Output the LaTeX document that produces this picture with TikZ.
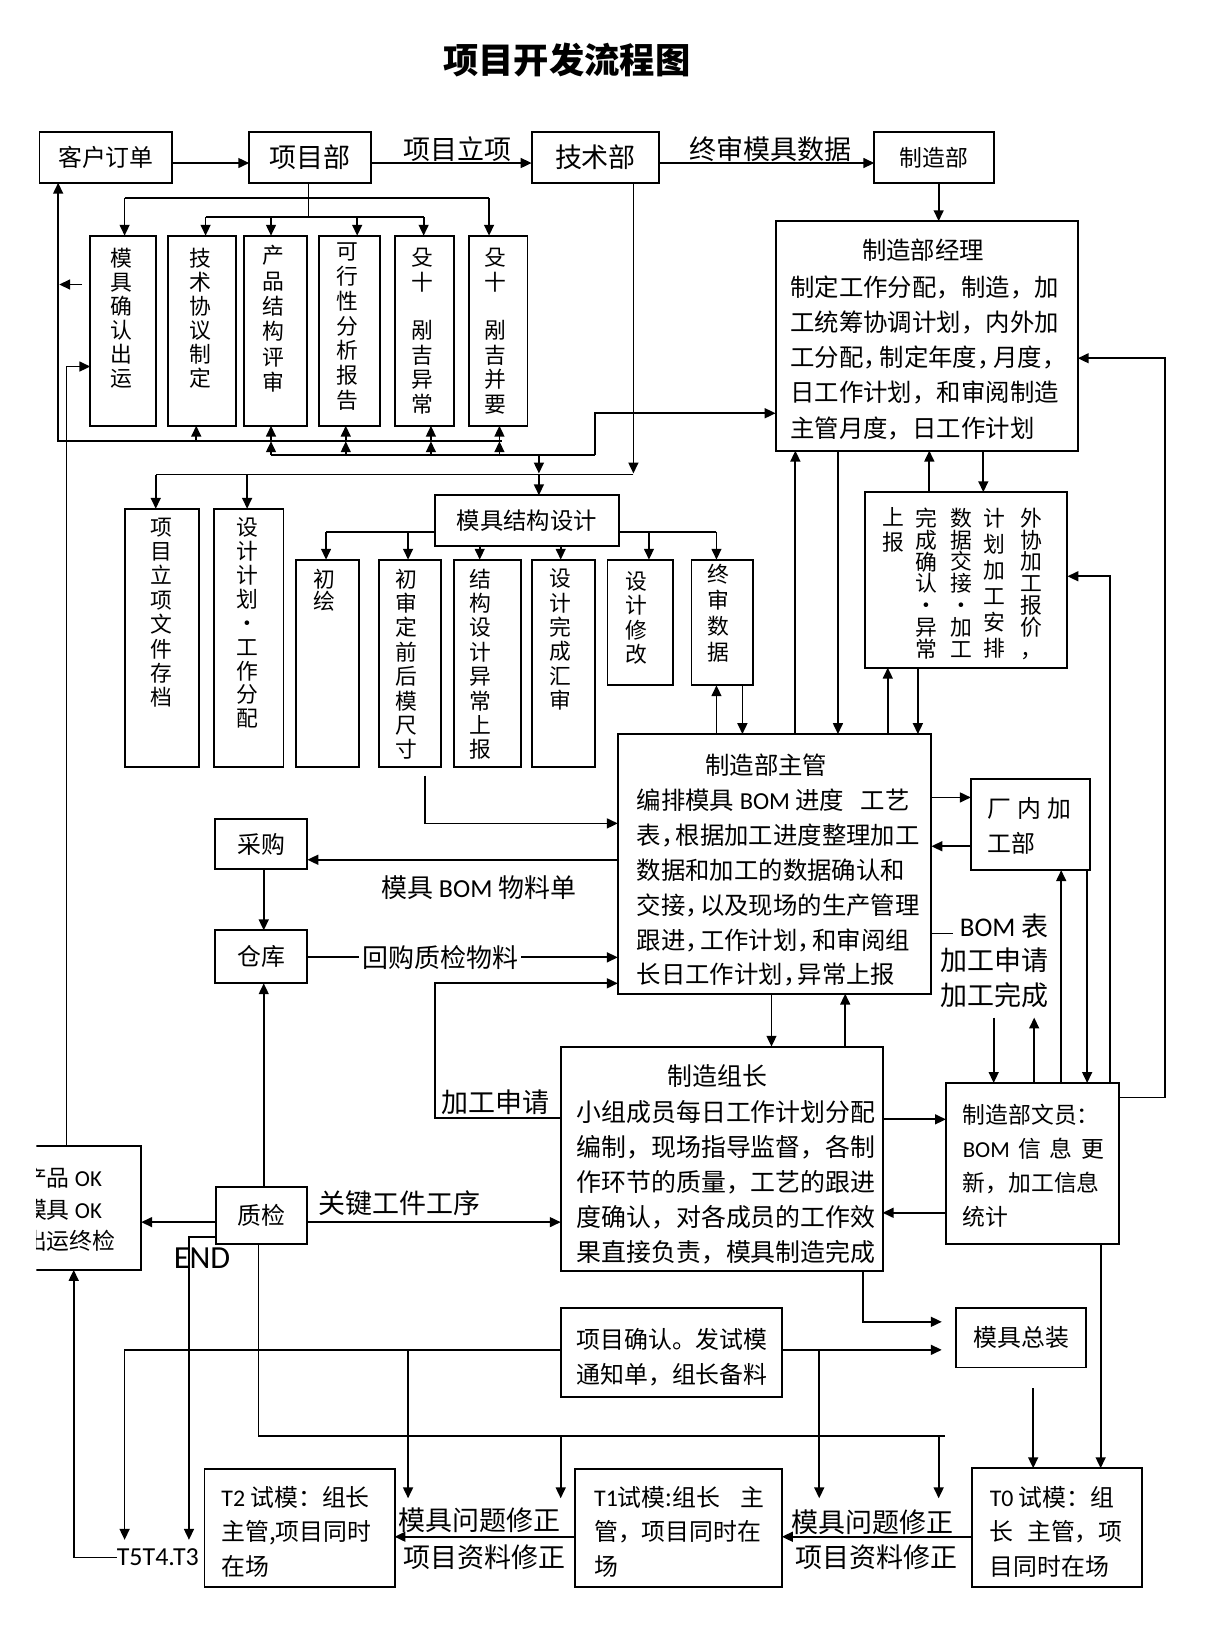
\documentclass[tikz,border=0pt]{standalone}
\usepackage{fontspec}
\setmainfont{Noto Sans CJK SC}
\newfontfamily\lat{Carlito}
\usetikzlibrary{arrows.meta}
\newcommand\mybox[6]{\node[box,anchor=north west,minimum width={#4-#2},minimum height={#5-#3}] (#1) at (#2,#3) {#6};}
\newcommand\sdou[1][0.6em]{\makebox[#1][l]{，}}
\begin{document}
\begin{tikzpicture}[x=1pt,y=-1pt,
  box/.style={draw,line width=1.8pt,inner sep=0pt,outer sep=0pt,font=\fontsize{23}{28}\selectfont},
  ln/.style={line width=1.7pt},
  arr/.style={line width=1.7pt,-{Triangle[length=10.5pt,width=9.5pt]}},
  tx/.style={inner sep=0pt,align=left,anchor=north west},
  lb/.style={inner sep=0pt,font=\fontsize{26}{30}\selectfont},
  vt/.style={inner sep=0pt,align=center,anchor=north},
]
\fill[white] (0,0) rectangle (1170,1565);
\useasboundingbox (0,0) rectangle (1170,1565);

\node[inner sep=0pt,font=\fontsize{34}{40}\selectfont\bfseries] (title) at (546,58) {项目开发流程图};

% ---------- nodes ----------
\mybox{A}{38}{127}{166}{176}{客户订单}
\mybox{B}{240}{127}{357}{176}{\fontsize{26}{30}\selectfont 项目部}
\mybox{C}{512}{127}{635}{176}{\fontsize{26}{30}\selectfont 技术部}
\mybox{D}{842}{127}{957}{176}{\fontsize{22}{26}\selectfont 制造部}

\mybox{E}{747}{213}{1038}{434}{}
\node[anchor=base,inner sep=0pt,font=\fontsize{23.5}{34}\selectfont] (Et) at (889,250) {制造部经理};
\node[tx,font=\fontsize{23.5}{34}\selectfont] (Eb) at (761,265) {制定工作分配，制造，加\\工统筹协调计划，内外加\\工分配\sdou[0.66em]制定年度\sdou[0.66em]月度\sdou[0.66em]\\日工作计划，和审阅制造\\主管月度，日工作计划};

\mybox{V1}{87}{227}{150}{410}{}
\mybox{V2}{162}{227}{227}{410}{}
\mybox{V3}{235}{227}{296}{410}{}
\mybox{V4}{307}{227}{366}{410}{}
\mybox{V5}{380}{227}{437}{410}{}
\mybox{V6}{452}{227}{508}{410}{}
\node[vt,font=\fontsize{21}{23}\selectfont] (v1t) at (117,239) {模\\具\\确\\认\\出\\运};
\node[vt,font=\fontsize{21}{23}\selectfont] (v2t) at (193,239) {技\\术\\协\\议\\制\\定};
\node[vt,font=\fontsize{21}{24.5}\selectfont] (v3t) at (263,236) {产\\品\\结\\构\\评\\审};
\node[vt,font=\fontsize{21}{23.8}\selectfont] (v4t) at (335,234) {可\\行\\性\\分\\析\\报\\告};
\node[vt,font=\fontsize{21}{23.5}\selectfont] (v5t) at (407,239) {殳\\十\\\phantom{十}\\剐\\吉\\异\\常};
\node[vt,font=\fontsize{21}{23.5}\selectfont] (v6t) at (477,239) {殳\\十\\\phantom{十}\\剐\\吉\\并\\要};

\mybox{W1}{120}{490}{192}{739}{}
\mybox{W2}{206}{490}{273}{739}{}
\node[vt,font=\fontsize{21}{23.5}\selectfont] (w1t) at (155,498.5) {项\\目\\立\\项\\文\\件\\存\\档};
\node[vt,font=\fontsize{21}{23}\selectfont] (w2t) at (238,498.5) {设\\计\\计\\划\\·\\工\\作\\分\\配};

\mybox{T}{419}{477}{596}{526}{\fontsize{22.5}{26}\selectfont 模具结构设计}
\mybox{X1}{285}{539}{346}{739}{}
\mybox{X2}{365}{539}{425}{739}{}
\mybox{X3}{437}{539}{502}{739}{}
\mybox{X4}{512}{539}{573}{739}{}
\mybox{X5}{585}{539}{648}{660}{}
\mybox{X6}{666}{539}{725}{660}{}
\node[vt,font=\fontsize{21}{22}\selectfont] (x1t) at (312,547.5) {初\\绘};
\node[vt,font=\fontsize{21}{23.5}\selectfont] (x2t) at (391,547.5) {初\\审\\定\\前\\后\\模\\尺\\寸};
\node[vt,font=\fontsize{21}{23.5}\selectfont] (x3t) at (463,547.5) {结\\构\\设\\计\\异\\常\\上\\报};
\node[vt,font=\fontsize{21}{23.5}\selectfont] (x4t) at (540,547.5) {设\\计\\完\\成\\汇\\审};
\node[vt,font=\fontsize{21}{23.5}\selectfont] (x5t) at (613,550) {设\\计\\修\\改};
\node[vt,font=\fontsize{21}{25}\selectfont] (x6t) at (692,543) {终\\审\\数\\据};

\mybox{G}{833}{474}{1028}{643}{}
\node[vt,font=\fontsize{21}{21}\selectfont] (g1) at (993,489) {外\\协\\加\\工\\报\\价\\，};
\node[vt,font=\fontsize{21}{25}\selectfont] (g2) at (958,489) {计\\划\\加\\工\\安\\排};
\node[vt,font=\fontsize{21}{21}\selectfont] (g3) at (926,489) {数\\据\\交\\接\\·\\加\\工};
\node[vt,font=\fontsize{21}{21}\selectfont] (g4) at (892,489) {完\\成\\确\\认\\·\\异\\常};
\node[vt,font=\fontsize{21}{24}\selectfont] (g5) at (860,489) {上\\报};

\mybox{F}{595}{707}{897}{957}{}
\node[anchor=base,inner sep=0pt,font=\fontsize{23.5}{34}\selectfont] (Ft) at (738,746) {制造部主管};
\node[tx,font=\fontsize{23.5}{33.6}\selectfont] (Fb) at (613,759.5) {\hbox to 263pt{编排模具 {\lat BOM} 进度\hfil 工艺}\\表\sdou 根据加工进度整理加工\\数据和加工的数据确认和\\交接\sdou 以及现场的生产管理\\跟进\sdou 工作计划\sdou 和审阅组\\长日工作计划\sdou 异常上报};

\mybox{H}{935}{750}{1050}{838}{}
\node[tx,font=\fontsize{23}{34}\selectfont] (Hb) at (951,767.5) {\hbox to 81pt{厂\hfil 内\hfil 加}\\工部};

\node[inner sep=0pt,align=right,anchor=north east,font=\fontsize{26}{33}\selectfont] (bl) at (1010,880) {{\lat BOM} 表\\加工申请\\加工完成};

\mybox{L}{911}{1043}{1078}{1198}{}
\node[tx,font=\fontsize{22}{32.7}\selectfont] (Lb) at (927,1063) {制造部文员：\\\hbox to 136pt{{\lat BOM}\hfil 信\hfil 息\hfil 更}\\新，加工信息\\统计};

\mybox{I}{207}{789}{296}{837}{采购}
\mybox{J}{207}{896}{296}{947}{仓库}

\mybox{K}{540}{1008}{850}{1224}{}
\node[anchor=base,inner sep=0pt,font=\fontsize{24}{33.5}\selectfont] (Kt) at (691,1045) {制造组长};
\node[tx,font=\fontsize{24}{33.5}\selectfont] (Kb) at (555,1060) {小组成员每日工作计划分配\\编制，现场指导监督，各制\\作环节的质量，工艺的跟进\\度确认，对各成员的工作效\\果直接负责，模具制造完成};

\mybox{O}{208}{1143}{296}{1198}{质检}
\begin{scope}
\clip (35,0) rectangle (1170,1565);
\mybox{P}{10}{1104}{136}{1223}{}
\node[tx,font=\fontsize{22}{30.5}\selectfont] (Pb) at (23,1124) {产品 {\lat OK}\\模具 {\lat OK}\\出运终检};
\end{scope}

\mybox{M}{921}{1260}{1046}{1317}{模具总装}
\mybox{N}{540}{1260}{753}{1345}{}
\node[tx,font=\fontsize{23}{33}\selectfont] (Nb) at (555,1279.5) {项目确认。发试模\\通知单，组长备料};

\mybox{Q}{197}{1415}{380}{1528}{}
\mybox{R}{554}{1415}{753}{1528}{}
\mybox{S}{936}{1414}{1100}{1528}{}
\node[tx,font=\fontsize{23}{33}\selectfont] (Qb) at (213,1431.5) {{\lat T2} 试模：组长\\主管,项目同时\\在场};
\node[tx,font=\fontsize{23}{33}\selectfont] (Rb) at (572,1431.5) {\hbox to 164pt{{\lat T1}试模:组长\hfil 主}\\管，项目同时在\\场};
\node[tx,font=\fontsize{23}{33}\selectfont] (Sb) at (953,1431.5) {{\lat T0} 试模：组\\\hbox to 128pt{长\hfil 主管，项}\\目同时在场};
\node[inner sep=0pt,font=\lat\fontsize{25}{30}\selectfont] (tt) at (152,1500) {T5T4.T3};

% ---------- connectors ----------
\draw[arr] (A.east |- 0,157) -- (B.west |- 0,157);
\draw[arr] (B.east |- 0,157) -- (C.west |- 0,157);
\draw[arr] (C.east |- 0,157) -- (D.west |- 0,157);
\node[lb] (l1) at (441,144) {项目立项};
\node[lb] (l2) at (742,144) {终审模具数据};
\draw[arr] (D.south -| 904,0) -- (E.north -| 904,0);

\draw[ln] (B.south -| 297,0) -- (297,209);
\draw[ln] (120,191) -- (471,191);
\draw[ln] (198,209) -- (408,209);
\draw[arr] (120,191) -- (V1.north -| 120,0);
\draw[arr] (471,191) -- (V6.north -| 471,0);
\draw[arr] (198,209) -- (V2.north -| 198,0);
\draw[arr] (261,209) -- (V3.north -| 261,0);
\draw[arr] (344,209) -- (V4.north -| 344,0);
\draw[arr] (408,209) -- (V5.north -| 408,0);

\draw[arr] (483,425) -- (56,425) -- (A.south -| 56,0);
\foreach \x/\n in {189/V2,261/V3,333/V4,415/V5,481/V6} \draw[arr] (\x,425) -- (\n.south -| \x,0);
\draw[ln] (261,438) -- (573,438);
\foreach \x in {261,333,415,481} \draw[arr] (\x,438) -- (\x,425);
\draw[arr] (573,438) -- (573,398) -- (E.west |- 0,398);
\draw[arr,shorten <=8pt] (V1.west |- 0,274) -- (57,274);
\draw[arr] (P.north -| 64,0) -- (64,353) -- (V1.west |- 0,353);

\draw[arr] (C.south -| 610,0) -- (610,456);
\draw[ln] (610,457) -- (150,457);
\draw[arr] (150,457) -- (W1.north -| 150,0);
\draw[arr] (238,457) -- (W2.north -| 238,0);
\draw[arr] (519,438) -- (519,456);
\draw[arr] (519,457) -- (T.north -| 519,0);

\draw[ln] (T.west |- 0,512) -- (314,512);
\draw[arr] (314,512) -- (X1.north -| 314,0);
\draw[arr] (393,512) -- (X2.north -| 393,0);
\draw[ln] (T.east |- 0,512) -- (690,512);
\draw[arr] (625,512) -- (X5.north -| 625,0);
\draw[arr] (690,512) -- (X6.north -| 690,0);
\draw[arr] (T.south -| 462,0) -- (X3.north -| 462,0);
\draw[arr] (T.south -| 540,0) -- (X4.north -| 540,0);

\draw[arr] (F.north -| 766,0) -- (E.south -| 766,0);
\draw[arr] (E.south -| 807,0) -- (F.north -| 807,0);
\draw[arr] (G.north -| 895,0) -- (E.south -| 895,0);
\draw[arr] (E.south -| 947,0) -- (G.north -| 947,0);
\draw[arr] (F.north -| 855,0) -- (G.south -| 855,0);
\draw[arr] (G.south -| 884,0) -- (F.north -| 884,0);
\draw[arr] (F.north -| 690,0) -- (X6.south -| 690,0);
\draw[arr] (X6.south -| 715,0) -- (F.north -| 715,0);
\draw[arr,shorten <=8pt] (X2.south -| 409,0) -- (409,793) -- (F.west |- 0,793);

\draw[arr] (F.east |- 0,768) -- (H.west |- 0,768);
\draw[arr] (H.west |- 0,815) -- (F.east |- 0,815);
\draw[arr] (L.north -| 1022,0) -- (H.south -| 1022,0);
\draw[arr] (H.south -| 1047,0) -- (L.north -| 1047,0);
\draw[arr] (L.north -| 1069,0) -- (1069,555) -- (G.east |- 0,555);
\draw[arr] (L.east |- 0,1057) -- (1122,1057) -- (1122,345) -- (E.east |- 0,345);
\draw[ln] (F.east |- 0,899) -- (918,899);
\draw[arr] (957,980) -- (L.north -| 957,0);
\draw[arr] (L.north -| 996,0) -- (996,980);

\draw[arr] (F.west |- 0,828) -- (I.east |- 0,828);
\node[lb,font=\fontsize{25}{30}\selectfont] (l3) at (461,855) {模具 {\lat BOM} 物料单};
\draw[arr] (I.south -| 254,0) -- (J.north -| 254,0);
\draw[arr] (J.east |- 0,922) -- (F.west |- 0,922);
\node[lb,fill=white,inner xsep=3pt,font=\fontsize{25}{30}\selectfont] (l4) at (424,922) {回购质检物料};

\draw[arr] (K.west |- 0,1077) -- (419,1077) -- (419,947) -- (F.west |- 0,947);
\node[lb] (l5) at (477,1062) {加工申请};
\draw[arr] (F.south -| 743,0) -- (K.north -| 743,0);
\draw[arr] (K.north -| 814,0) -- (F.south -| 814,0);
\draw[arr] (K.east |- 0,1078) -- (L.west |- 0,1078);
\draw[arr] (L.west |- 0,1168) -- (K.east |- 0,1168);

\draw[arr] (O.north -| 254,0) -- (J.south -| 254,0);
\draw[arr] (O.west |- 0,1177) -- (P.east |- 0,1177);
\draw[arr] (O.east |- 0,1177) -- (K.west |- 0,1177);
\node[lb] (l6) at (385,1159) {关键工件工序};
\draw[arr] (O.west |- 0,1191) -- (182,1191) -- (182,1483);
\node[inner sep=0pt,font=\lat\fontsize{31}{36}\selectfont] (end) at (194.5,1212) {END};

\draw[ln] (O.south -| 249,0) -- (249,1383) -- (910,1383);
\draw[arr] (540,1383) -- (540,1443);
\draw[arr] (904,1383) -- (904,1443);

\draw[arr,shorten >=14pt] (N.east |- 0,1300) -- (M.west |- 0,1300);
\draw[arr,shorten >=14pt] (K.south -| 831,0) |- (M.west |- 0,1273);
\draw[arr] (N.west |- 0,1300) -- (120,1300) -- (120,1483);
\draw[arr] (393,1300) -- (393,1443);
\draw[arr] (789,1300) -- (789,1443);
\draw[arr,shorten <=20pt] (M.south -| 995,0) -- (S.north -| 995,0);
\draw[arr] (L.south -| 1060,0) -- (S.north -| 1060,0);

\draw[arr] (S.west |- 0,1480) -- (R.east |- 0,1480);
\draw[arr] (R.west |- 0,1480) -- (Q.east |- 0,1480);
\node[lb] (l7) at (462,1464) {模具问题修正};
\node[lb] (l8) at (467,1500) {项目资料修正};
\node[lb] (l9) at (840,1466) {模具问题修正};
\node[lb] (l10) at (844,1500) {项目资料修正};
\draw[arr] (tt.west) -- (71,1500) -- (P.south -| 71,0);
\end{tikzpicture}
\end{document}
